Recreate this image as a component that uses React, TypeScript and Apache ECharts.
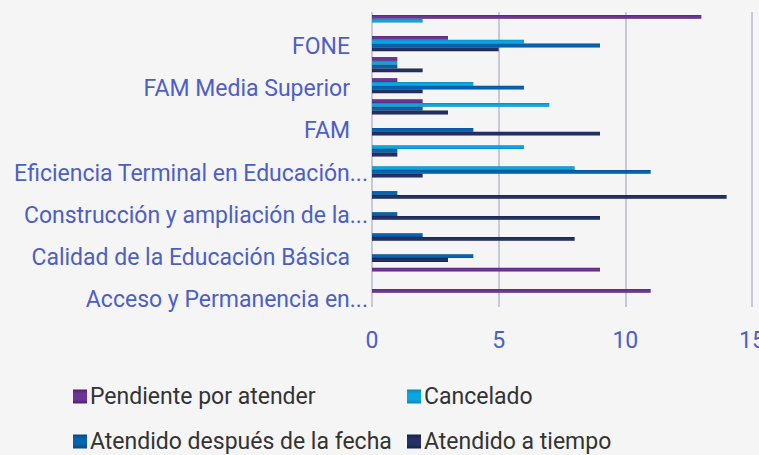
import React, { useEffect, useRef } from "react";
import * as echarts from "echarts";

const categories = [
  "Acceso y Permanencia en...",
  "Atención a la Demanda...",
  "Calidad de la Educación Básica",
  "Capacitación Docente...",
  "Construcción y ampliación de la...",
  "Desarrollo Educativo...",
  "Eficiencia Terminal en Educación...",
  "Escuelas de Tiempo Completo...",
  "FAM",
  "FAM Básico",
  "FAM Media Superior",
  "FAM Superior",
  "FONE",
  "Fortalecimiento...",
];

const pendiente = [11, 9, 0, 0, 0, 0, 0, 0, 0, 2, 1, 1, 3, 13];
const cancelado = [0, 0, 0, 0, 0, 0, 8, 6, 0, 7, 4, 1, 6, 2];
const atendidoDespues = [0, 0, 4, 2, 1, 1, 11, 1, 4, 2, 6, 1, 9, 0];
const atendidoTiempo = [0, 0, 3, 8, 9, 14, 2, 1, 9, 3, 2, 2, 5, 0];

const seriesNames = [
  "Pendiente por atender",
  "Cancelado",
  "Atendido después de la fecha",
  "Atendido a tiempo",
];
const xTicks = [0, 5, 10, 15];

const colors = ["#6d3593", "#0aa6e0", "#0563b0", "#243166"];
const darker = ["#4f2170", "#0787b8", "#044a86", "#151f46"];

const FONT = "Roboto";
const FS = 23;
const LABEL = "#4d5fc4";

export default function App() {
  const ref = useRef<HTMLDivElement>(null);
  useEffect(() => {
    if (!ref.current) return;
    const chart = echarts.init(ref.current, null, { renderer: "svg" });
    const values = [pendiente, cancelado, atendidoDespues, atendidoTiempo];
    const legendPos = [
      { left: 73, top: 385 },
      { left: 407, top: 385 },
      { left: 73, top: 430 },
      { left: 407, top: 430 },
    ];
    chart.setOption({
      animation: false,
      backgroundColor: "#f5f5f5",
      grid: {
        left: 372,
        right: 7,
        top: 12,
        bottom: 148,
        containLabel: false,
        outerBoundsMode: "none",
      },
      legend: seriesNames.map((n, i) => ({
        data: [n],
        left: legendPos[i].left,
        top: legendPos[i].top,
        icon: "rect",
        itemWidth: 14,
        itemHeight: 14,
        itemGap: 0,
        padding: 0,
        selectedMode: false,
        textStyle: {
          fontFamily: FONT,
          fontSize: FS,
          color: "#333333",
          padding: [0, 0, 0, -2],
        },
      })),
      xAxis: {
        type: "value",
        min: xTicks[0],
        max: xTicks[xTicks.length - 1],
        interval: 5,
        axisLine: { show: false },
        axisTick: { show: false },
        splitLine: { show: true, lineStyle: { color: "#c8c8da", width: 2 } },
        axisLabel: {
          fontFamily: FONT,
          fontSize: FS,
          color: LABEL,
          margin: 22,
        },
      },
      yAxis: {
        type: "category",
        data: categories,
        axisLine: { show: false },
        axisTick: { show: false },
        axisLabel: {
          interval: 1,
          fontFamily: FONT,
          fontSize: FS,
          color: LABEL,
          margin: 4,
          formatter: (v: string) =>
            v.endsWith("...") ? `{e|${v}}` : `{p|${v}}`,
          rich: {
            e: { fontFamily: FONT, fontSize: FS, color: LABEL, padding: [6, 0, 0, 0] },
            p: { fontFamily: FONT, fontSize: FS, color: LABEL, padding: [6, 18, 0, 0] },
          },
        },
      },
      series: seriesNames.map((n, i) => ({
        name: n,
        type: "bar",
        data: values[i],
        barGap: "0%",
        barCategoryGap: "28%",
        itemStyle: {
          color: new echarts.graphic.LinearGradient(0, 0, 0, 1, [
            { offset: 0, color: darker[i] },
            { offset: 0.3, color: colors[i] },
            { offset: 0.7, color: colors[i] },
            { offset: 1, color: darker[i] },
          ]),
        },
      })),
    });
    return () => chart.dispose();
  }, []);
  return (
    <div
      ref={ref}
      style={{ position: "fixed", left: 0, top: 0, width: 759, height: 455 }}
    />
  );
}
